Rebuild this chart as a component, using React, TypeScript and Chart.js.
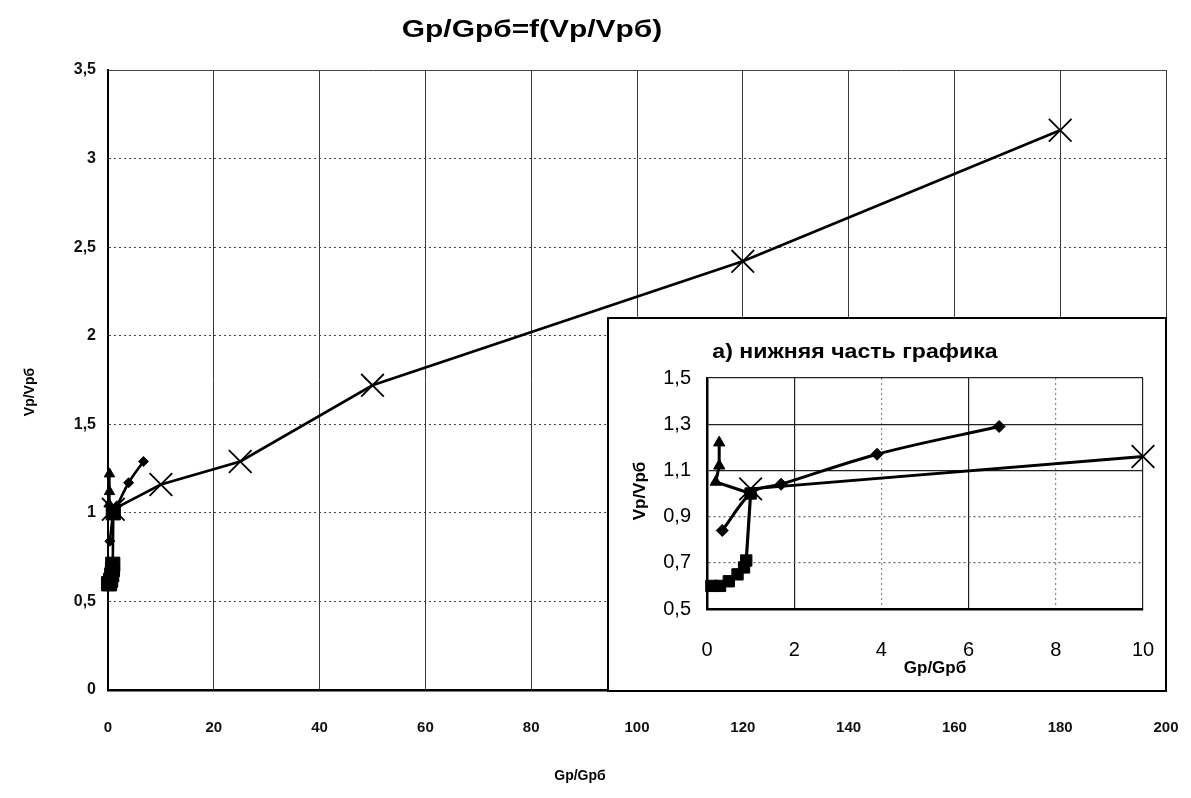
import React, { useEffect, useRef } from "react";
import { Chart, registerables } from "chart.js";
Chart.register(...registerables);

// ---- data ----
const crossX = [1.0, 10, 25, 50, 120, 180];
const crossY = [1.02, 1.16, 1.29, 1.72, 2.42, 3.16];

const diamondX = [0.35, 1.0, 1.7, 3.9, 6.7];
const diamondY = [0.84, 1.0, 1.04, 1.17, 1.29];

const triangleX = [1.0, 0.2, 0.28, 0.28];
const triangleY = [1.0, 1.05, 1.12, 1.22];

const squareX = [0.1, 0.3, 0.5, 0.7, 0.85, 0.9, 1.0];
const squareY = [0.6, 0.6, 0.62, 0.65, 0.68, 0.71, 1.0];

const mainXTicks = [0, 20, 40, 60, 80, 100, 120, 140, 160, 180, 200];
const mainYTicks = [0, 0.5, 1, 1.5, 2, 2.5, 3, 3.5];
const insetXTicks = [0, 2, 4, 6, 8, 10];
const insetYTicks = [0.5, 0.7, 0.9, 1.1, 1.3, 1.5];

const TITLE = "Gp/Gpб=f(Vp/Vpб)";
const X_TITLE = "Gp/Gpб";
const Y_TITLE = "Vp/Vpб";
const INSET_TITLE = "а) нижняя часть графика";

const FONT = "'Liberation Sans', Arial, Helvetica, sans-serif";

function pts(xs: number[], ys: number[]) {
  return xs.map((x, i) => ({ x, y: ys[i] }));
}

function fmt(v: number) {
  const n = Math.round(Number(v) * 10) / 10;
  return Number.isInteger(n) ? String(n) : n.toFixed(1).replace(".", ",");
}

function datasets(main: boolean) {
  const clip = { left: 14, right: 14, top: 10, bottom: 14 };
  return [
    {
      label: "cross",
      data: pts(crossX, crossY),
      showLine: true,
      borderColor: "#000",
      borderWidth: main ? 2.6 : 3,
      pointStyle: "crossRot",
      pointRadius: 16,
      pointBorderWidth: 1.8,
      pointBorderColor: "#000",
      pointBackgroundColor: "#000",
      tension: 0,
      clip,
    },
    {
      label: "diamond",
      data: pts(diamondX, diamondY),
      showLine: true,
      borderColor: "#000",
      borderWidth: main ? 2.6 : 3,
      pointStyle: "rectRot",
      pointRadius: main ? 5 : 6,
      pointBorderWidth: 1,
      pointBorderColor: "#000",
      pointBackgroundColor: "#000",
      cubicInterpolationMode: "monotone",
      clip,
    },
    {
      label: "triangle",
      data: pts(triangleX, triangleY),
      showLine: true,
      borderColor: "#000",
      borderWidth: main ? 2.4 : 3,
      pointStyle: "triangle",
      pointRadius: main ? 6 : 6.5,
      pointBorderWidth: 1,
      pointBorderColor: "#000",
      pointBackgroundColor: "#000",
      tension: 0,
      clip,
    },
    {
      label: "square",
      data: pts(squareX, squareY),
      showLine: true,
      borderColor: "#000",
      borderWidth: main ? 2.6 : 3.2,
      pointStyle: "rect",
      pointRadius: main ? 10 : 8,
      pointBorderWidth: 1,
      pointBorderColor: "#000",
      pointBackgroundColor: "#000",
      tension: 0,
      clip,
    },
  ];
}

type TextItem = { text: string; x: number; y: number; font: string; rot?: number; sx?: number };

function textPlugin(items: TextItem[]) {
  return {
    id: "texts",
    afterDraw(chart: any) {
      const ctx = chart.ctx;
      items.forEach((t) => {
        ctx.save();
        ctx.font = t.font;
        ctx.fillStyle = "#000";
        ctx.textAlign = "center";
        ctx.textBaseline = "middle";
        ctx.translate(t.x, t.y);
        if (t.rot) ctx.rotate(t.rot);
        if (t.sx) ctx.scale(t.sx, 1);
        ctx.fillText(t.text, 0, 0);
        ctx.restore();
      });
    },
  };
}

export default function App() {
  const mainRef = useRef<HTMLCanvasElement | null>(null);
  const insetRef = useRef<HTMLCanvasElement | null>(null);

  useEffect(() => {
    if (!mainRef.current || !insetRef.current) return;

    const mainChart = new Chart(mainRef.current, {
      type: "scatter",
      data: { datasets: datasets(true) as any },
      options: {
        animation: false,
        responsive: false,
        events: [],
        layout: { padding: { top: 70, right: 25, left: 0, bottom: 0 } },
        plugins: { legend: { display: false }, tooltip: { enabled: false }, title: { display: false } },
        scales: {
          x: {
            type: "linear",
            min: 0,
            max: 200,
            afterFit: (s: any) => { s.height = 108; s.paddingLeft = 0; s.paddingRight = 0; },
            afterBuildTicks: (s: any) => { s.ticks = mainXTicks.map((v) => ({ value: v })); },
            ticks: {
              padding: 29,
              color: "#111",
              font: { family: FONT, size: 15, weight: "bold" },
              callback: (v: any) => fmt(v),
              maxRotation: 0,
            },
            grid: { color: "#3a3a3a", lineWidth: 1, drawTicks: false },
            border: { color: "#000", width: 2.5 },
          },
          y: {
            type: "linear",
            min: 0,
            max: 3.5,
            afterFit: (s: any) => { s.width = 108; },
            afterBuildTicks: (s: any) => { s.ticks = mainYTicks.map((v) => ({ value: v })); },
            ticks: {
              padding: 12,
              color: "#111",
              font: { family: FONT, size: 16, weight: "bold" },
              callback: (v: any) => fmt(v),
            },
            grid: { color: "#444", lineWidth: 1, drawTicks: false },
            border: {
              color: "#000",
              width: 2,
              dash: (c: any) => (c.tick && Math.abs(c.tick.value - 3.5) < 1e-6 ? [] : [2, 3]),
            },
          },
        },
      } as any,
      plugins: [
        textPlugin([
          { text: TITLE, x: 532, y: 31, font: `bold 23px ${FONT}`, sx: 1.3 },
          { text: X_TITLE, x: 580, y: 776, font: `bold 14px ${FONT}` },
          { text: Y_TITLE, x: 30, y: 392, font: `bold 14px ${FONT}`, rot: -Math.PI / 2 },
        ]),
      ],
    });

    const near = (a: number, list: number[]) => list.some((b) => Math.abs(a - b) < 1e-6);

    const insetChart = new Chart(insetRef.current, {
      type: "scatter",
      data: { datasets: datasets(false) as any },
      options: {
        animation: false,
        responsive: false,
        events: [],
        layout: { padding: { top: 59, right: 22, left: 0, bottom: 0 } },
        plugins: { legend: { display: false }, tooltip: { enabled: false }, title: { display: false } },
        scales: {
          x: {
            type: "linear",
            min: 0,
            max: 10,
            afterFit: (s: any) => { s.height = 81; s.paddingLeft = 0; s.paddingRight = 0; },
            afterBuildTicks: (s: any) => { s.ticks = insetXTicks.map((v) => ({ value: v })); },
            ticks: {
              padding: 29,
              color: "#000",
              font: { family: FONT, size: 20 },
              callback: (v: any) => fmt(v),
              maxRotation: 0,
            },
            grid: {
              color: (c: any) => (c.tick && near(c.tick.value, [4, 8]) ? "#888" : "#222"),
              lineWidth: 1.2,
              drawTicks: false,
            },
            border: {
              color: "#000",
              width: 2.5,
              dash: (c: any) => (c.tick && near(c.tick.value, [4, 8]) ? [2, 3] : []),
            },
          },
          y: {
            type: "linear",
            min: 0.5,
            max: 1.5,
            afterFit: (s: any) => { s.width = 98; },
            afterBuildTicks: (s: any) => { s.ticks = insetYTicks.map((v) => ({ value: v })); },
            ticks: {
              padding: 16,
              color: "#000",
              font: { family: FONT, size: 20 },
              callback: (v: any) => fmt(v),
            },
            grid: {
              color: (c: any) => (c.tick && near(c.tick.value, [0.7, 0.9]) ? "#666" : "#222"),
              lineWidth: 1.2,
              drawTicks: false,
            },
            border: {
              color: "#000",
              width: 2.5,
              dash: (c: any) => (c.tick && near(c.tick.value, [0.7, 0.9]) ? [2, 3] : []),
            },
          },
        },
      } as any,
      plugins: [
        textPlugin([
          { text: INSET_TITLE, x: 246, y: 33, font: `bold 21px ${FONT}`, sx: 1.1 },
          { text: X_TITLE, x: 326, y: 349, font: `bold 17px ${FONT}` },
          { text: Y_TITLE, x: 31, y: 172, font: `bold 17px ${FONT}`, rot: -Math.PI / 2 },
        ]),
      ],
    });

    return () => {
      mainChart.destroy();
      insetChart.destroy();
    };
  }, []);

  return (
    <div style={{ position: "absolute", left: 0, top: 0, width: 1191, height: 798, background: "#fff", overflow: "hidden" }}>
      <canvas ref={mainRef} width={1191} height={798} style={{ position: "absolute", left: 0, top: 0, width: 1191, height: 798 }} />
      <div
        style={{
          position: "absolute",
          left: 607,
          top: 317,
          width: 560,
          height: 375,
          boxSizing: "border-box",
          border: "2px solid #000",
          background: "#fff",
        }}
      >
        <canvas ref={insetRef} width={556} height={371} style={{ display: "block", width: 556, height: 371 }} />
      </div>
    </div>
  );
}
